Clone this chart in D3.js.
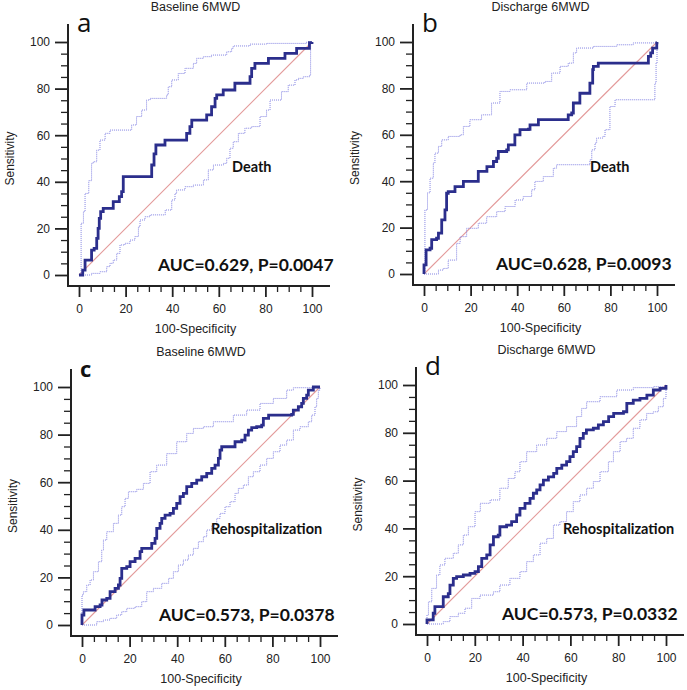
<!DOCTYPE html>
<html><head><meta charset="utf-8">
<script src="https://cdn.jsdelivr.net/npm/d3@7"></script>
<style>
body{margin:0;background:#fff;}
svg{display:block;}
</style></head>
<body>
<svg id="chart" width="687" height="690"></svg>
<script>
// ---------- DATA ----------
const panelLetters = ["a", "b", "c", "d"];
const panelTitles = ["Baseline 6MWD", "Discharge 6MWD", "Baseline 6MWD", "Discharge 6MWD"];
const outcomeLabels = ["Death", "Death", "Rehospitalization", "Rehospitalization"];
const aucLabels = ["AUC=0.629, P=0.0047", "AUC=0.628, P=0.0093", "AUC=0.573, P=0.0378", "AUC=0.573, P=0.0332"];
const xAxisTitle = "100-Specificity";
const yAxisTitle = "Sensitivity";
const majorTicks = [0, 20, 40, 60, 80, 100];
const minorTicks = [5,10,15,25,30,35,45,50,55,65,70,75,85,90,95];
const diagonal = [[0,0],[100,100]];

// Panel a - Baseline 6MWD, Death
const rocA = [[0,0],[1.0,0],[1.6,2.1],[2.6,6.4],[5.2,6.4],[5.4,10.7],[6.5,11.4],[7.6,15.7],[8.2,20.0],[8.7,24.3],[9.3,27.2],[10.4,28.6],[12.6,28.6],[14.7,31.5],[17.3,33.6],[18.3,35.8],[19.0,42.2],[30.5,42.2],[31.2,47.2],[32.2,52.0],[33.0,55.8],[36.9,57.9],[45.9,57.9],[46.2,60.8],[47.6,63.7],[48.4,66.5],[53.4,66.5],[54.8,68.7],[56.9,72.2],[58.4,75.8],[59.1,77.3],[61.9,79.4],[66.2,79.4],[66.9,82.3],[71.2,82.3],[73.4,85.1],[74.1,88.7],[75.5,90.8],[80.5,90.8],[81.3,93.0],[87.7,93.0],[88.4,95.1],[92.7,95.1],[93.4,97.3],[98.4,97.3],[98.9,99.7],[100,100]];
const upperA = [[0,0],[0.5,0],[0.9,22.2],[1.9,27.2],[2.6,35.0],[4.2,40.5],[5.4,47.9],[6.1,48.6],[7.6,53.6],[9.0,57.9],[11.2,60.8],[13.3,62.2],[21.9,62.2],[22.6,64.4],[24.7,68.0],[26.9,70.8],[29.0,75.1],[30.5,75.8],[36.9,75.8],[37.6,77.3],[38.3,80.8],[39.8,83.7],[42.6,86.5],[45.5,88.7],[49.1,90.8],[50.5,93.0],[53.4,93.7],[56.9,94.4],[60.5,94.4],[63.4,95.8],[65.5,97.3],[66.2,98.3],[73.4,99.1],[80.5,99.4],[97.7,100],[100,100]];
const lowerA = [[0,0],[2.6,0],[5.4,0.7],[9.0,1.4],[11.9,3.6],[13.3,5.0],[14.7,6.4],[16.2,9.3],[17.6,12.9],[19.7,13.6],[21.9,15.0],[24.0,16.5],[25.5,20.7],[26.2,23.6],[28.3,25.0],[30.5,25.8],[34.8,25.8],[37.0,27.9],[39.8,32.2],[41.2,35.0],[41.9,36.5],[45.5,37.9],[49.1,38.6],[53.4,40.8],[55.5,45.1],[57.7,47.2],[62.0,47.9],[63.4,50.1],[64.8,54.4],[66.2,57.2],[68.4,60.8],[71.2,63.0],[74.1,63.7],[77.7,68.0],[80.5,70.8],[82.0,75.1],[84.1,75.1],[86.9,78.7],[89.8,81.5],[92.7,83.7],[94.1,84.4],[96.3,85.1],[98.4,85.1],[99.1,85.8],[99.4,99.4],[100,100]];

// Panel b - Discharge 6MWD, Death
const rocB = [[0,0],[0,3.9],[0.9,3.9],[0.9,10.4],[2.6,11.1],[3.3,14.8],[5.4,15.4],[6.2,17.6],[7.2,17.6],[7.6,23.3],[9.0,27.6],[9.7,34.8],[10.4,35.5],[12.6,35.5],[13.3,37.7],[16.2,37.7],[16.9,39.9],[22.6,39.9],[23.3,44.2],[26.2,44.2],[27.0,46.3],[29.0,46.3],[29.8,48.5],[31.2,49.9],[31.9,52.8],[35.5,53.5],[36.2,55.7],[38.3,55.7],[39.0,60.0],[41.2,62.2],[44.8,62.4],[45.5,64.3],[48.4,64.3],[49.1,66.5],[61.2,66.5],[61.9,68.6],[63.4,69.4],[64.1,73.7],[66.2,73.7],[66.9,77.9],[70.5,77.9],[71.2,82.3],[72.4,88.1],[72.7,89.5],[74.8,90.9],[95.6,90.9],[96.3,93.8],[97.3,95.3],[98.1,97.4],[99.1,97.4],[99.9,99.6],[100,100]];
const upperB = [[0,0],[0.2,0],[0.4,27.6],[1.5,35.0],[2.6,41.3],[4.0,47.8],[4.7,52.1],[6.2,55.0],[7.6,57.8],[10.4,59.3],[15.5,60.0],[16.9,63.6],[19.7,66.5],[24.7,68.6],[29.0,73.7],[32.6,78.7],[36.9,79.4],[44.1,82.3],[51.9,83.0],[54.8,86.6],[58.4,89.5],[61.9,90.9],[64.1,95.3],[65.5,97.4],[72.7,98.1],[82.7,98.8],[89.8,99.6],[99.1,99.6],[100,100]];
const lowerB = [[0,0],[4.0,0],[6.2,1.7],[8.3,2.4],[10.4,6.0],[14.0,13.2],[15.5,16.1],[18.3,19.7],[23.3,21.9],[26.9,24.7],[31.2,26.9],[34.8,29.1],[39.1,31.9],[42.6,33.4],[46.2,36.3],[47.6,39.9],[51.2,42.0],[55.5,45.6],[56.9,47.1],[69.1,47.1],[71.2,49.2],[72.0,53.5],[73.4,56.4],[74.1,58.6],[76.8,59.3],[77.7,62.2],[79.8,72.2],[82.0,75.1],[98.4,75.1],[99.1,82.3],[99.6,90.9],[100,99.6],[100,100]];

// Panel c - Baseline 6MWD, Rehospitalization
const rocC = [[0,0],[0,4.2],[0.8,6.3],[4.8,6.3],[5.5,7.7],[7.6,8.4],[8.4,10.5],[10.4,11.2],[11.8,14.0],[13.9,15.4],[15.3,16.8],[16.0,19.6],[16.7,23.8],[18.8,24.5],[20.2,26.6],[22.3,28.0],[24.4,30.8],[25.1,32.2],[28.6,32.2],[29.3,34.3],[30.7,36.4],[31.4,40.6],[32.8,42.7],[33.5,44.8],[34.9,46.2],[37.0,46.9],[38.4,49.0],[39.8,51.1],[41.2,53.9],[42.6,55.3],[44.0,58.1],[46.1,59.5],[48.2,60.9],[50.3,62.3],[52.4,63.7],[54.5,65.8],[55.9,67.2],[57.3,70.0],[58.0,73.5],[58.7,74.9],[62.9,74.9],[64.3,77.0],[67.1,77.7],[68.5,79.8],[69.9,81.9],[71.3,82.9],[73.4,83.3],[75.5,84.0],[76.2,86.8],[78.4,88.2],[88.1,88.5],[88.8,90.3],[90.9,91.7],[92.3,93.1],[93.0,95.2],[94.4,96.6],[95.1,98.7],[97.2,100],[100,100]];
const upperC = [[0,0],[0,12.6],[0.6,14.0],[2.0,16.8],[3.4,18.9],[4.8,22.4],[6.9,26.6],[8.3,31.5],[9.0,35.7],[10.4,39.2],[13.2,42.7],[15.3,46.2],[16.7,49.7],[18.1,53.2],[19.5,56.0],[23.0,57.0],[25.8,59.5],[28.6,64.4],[31.4,67.2],[35.6,72.0],[39.8,77.0],[44.0,80.5],[46.8,82.6],[51.0,83.3],[55.2,85.4],[63.6,88.2],[69.2,90.3],[74.8,93.1],[80.4,95.2],[86.0,98.7],[88.8,99.7],[100,100]];
const lowerC = [[0,0],[3.4,0],[6.2,1.4],[9.0,2.1],[11.8,2.8],[14.6,4.2],[16.7,5.6],[18.8,7.0],[22.3,7.7],[25.1,9.8],[27.2,14.0],[30.0,15.4],[33.5,17.5],[36.4,19.6],[38.4,22.4],[40.5,25.2],[42.6,27.3],[44.7,29.4],[46.8,32.2],[48.9,35.0],[51.0,37.1],[52.4,39.9],[54.5,42.0],[56.6,44.8],[58.0,46.9],[60.1,49.7],[62.2,51.8],[64.3,55.3],[65.7,57.4],[67.8,58.8],[69.9,62.3],[72.0,64.4],[74.8,67.2],[77.6,70.0],[80.4,72.8],[83.2,75.6],[86.0,77.7],[88.8,81.9],[91.6,83.3],[95.1,85.4],[96.5,88.2],[97.9,91.7],[98.6,95.2],[99.3,98.7],[100,100]];

// Panel d - Discharge 6MWD, Rehospitalization
const rocD = [[0,0],[0,1.7],[2.0,1.7],[2.6,4.5],[3.3,7.3],[6.1,7.3],[6.8,11.4],[8.9,12.7],[9.6,16.3],[11.0,19.1],[12.4,19.8],[15.2,20.5],[18.0,21.2],[20.1,21.9],[21.5,24.0],[22.9,27.5],[25.0,28.9],[26.4,33.1],[27.8,36.5],[29.8,37.2],[30.5,40.7],[33.3,41.4],[35.4,42.8],[37.5,45.6],[38.9,48.4],[41.0,50.5],[43.1,52.6],[44.5,54.7],[45.9,56.1],[47.3,58.2],[48.7,60.2],[50.8,61.6],[53.0,63.0],[54.3,65.1],[56.4,66.5],[58.4,67.9],[59.8,70.0],[61.2,72.1],[62.6,74.2],[64.0,77.7],[65.4,79.8],[66.7,81.2],[69.6,81.9],[71.7,83.3],[73.8,84.7],[76.0,86.8],[78.1,88.1],[82.2,88.8],[83.6,92.3],[86.3,93.7],[89.1,94.4],[92.0,95.8],[94.7,97.9],[97.5,98.6],[100,99.3],[100,100]];
const upperD = [[0,0],[0,3.8],[0.6,9.3],[2.0,14.9],[4.0,20.5],[5.4,24.7],[7.5,27.5],[11.0,29.6],[13.1,33.1],[15.2,37.2],[17.3,40.7],[20.1,47.0],[22.3,50.5],[26.4,51.9],[30.5,56.8],[34.0,60.9],[36.8,63.7],[38.9,67.9],[41.7,72.1],[45.9,74.9],[50.1,77.7],[54.3,80.5],[58.4,82.6],[62.6,86.8],[64.7,90.2],[66.8,93.0],[72.4,95.1],[79.4,97.9],[86.3,98.9],[94.7,99.3],[100,99.3],[100,100]];
const lowerD = [[0,0],[4.0,0],[6.8,1.0],[9.6,3.1],[13.1,4.5],[15.9,6.6],[18.7,10.7],[22.2,12.1],[27.8,13.5],[30.5,16.3],[34.7,19.1],[38.9,21.9],[41.7,26.1],[44.5,28.9],[47.3,33.8],[50.1,35.8],[52.9,41.4],[55.6,42.8],[58.4,47.0],[61.2,51.2],[64.0,54.0],[66.8,56.8],[69.6,59.6],[72.4,63.7],[75.9,67.9],[78.0,72.1],[80.8,76.3],[83.5,77.7],[86.3,81.9],[89.1,85.4],[91.9,88.1],[94.7,88.8],[96.8,90.9],[98.9,94.4],[100,98.6],[100,100]];

const rocCurves = [rocA, rocB, rocC, rocD];
const upperBounds = [upperA, upperB, upperC, upperD];
const lowerBounds = [lowerA, lowerB, lowerC, lowerD];

// ---------- LAYOUT ----------
const layout = [
  {x0: 79,  x1: 312, y0: 275, y1: 42,  letterBold: false, letterSize: 26, aucDx: 79, labDx: 153, labY: 172},
  {x0: 424, x1: 657, y0: 274, y1: 42,  letterBold: false, letterSize: 26, aucDx: 72, labDx: 166, labY: 172},
  {x0: 82,  x1: 320, y0: 625, y1: 387, letterBold: true,  letterSize: 22, aucDx: 77, labDx: 129, labY: 534},
  {x0: 427, x1: 666, y0: 624, y1: 385, letterBold: false, letterSize: 26, aucDx: 75, labDx: 136, labY: 534}
];
const gap = 11;      // offset of axis lines from the data origin
const extend = 18;   // how far axis lines extend beyond 100
const rocColor = "#2b2e8c";
const ciColor = "#8383e2";
const diagColor = "#e39a9a";
const sansFont = "'Liberation Sans', Arial, sans-serif";
const annoFont = "Lato, 'Open Sans', sans-serif";

const svg = d3.select("#chart");

layout.forEach((L, i) => {
  const x = d3.scaleLinear().domain([0, 100]).range([L.x0, L.x1]);
  const y = d3.scaleLinear().domain([0, 100]).range([L.y0, L.y1]);
  const g = svg.append("g");
  const axX = x(0) - gap;        // y-axis line x
  const axY = y(0) + gap;        // x-axis line y
  const cx = (x(0) + x(100)) / 2;

  // axis lines
  g.append("line").attr("x1", axX).attr("x2", axX)
    .attr("y1", y(100) - extend).attr("y2", axY + 1)
    .attr("stroke", "#222").attr("stroke-width", 2);
  g.append("line").attr("x1", axX - 1).attr("x2", x(100) + extend)
    .attr("y1", axY).attr("y2", axY)
    .attr("stroke", "#222").attr("stroke-width", 2);

  // y axis ticks
  const yMaj = g.append("g").attr("transform", `translate(${axX},0)`)
    .call(d3.axisLeft(y).tickValues(majorTicks).tickSize(13).tickPadding(5));
  const yMin = g.append("g").attr("transform", `translate(${axX},0)`)
    .call(d3.axisLeft(y).tickValues(minorTicks).tickSize(7).tickFormat(""));
  // x axis ticks
  const xMaj = g.append("g").attr("transform", `translate(0,${axY})`)
    .call(d3.axisBottom(x).tickValues(majorTicks).tickSize(11).tickPadding(7));
  const xMin = g.append("g").attr("transform", `translate(0,${axY})`)
    .call(d3.axisBottom(x).tickValues(minorTicks).tickSize(6).tickFormat(""));
  [yMaj, yMin, xMaj, xMin].forEach(a => {
    a.select(".domain").remove();
    a.selectAll("line").attr("stroke", "#222").attr("stroke-width", 1.3);
    a.selectAll("text").attr("font-family", sansFont).attr("font-size", 12).attr("fill", "#222");
  });
  yMaj.selectAll("line").attr("stroke-width", 1.8);
  xMaj.selectAll("line").attr("stroke-width", 1.8);

  // diagonal reference
  const line = d3.line().x(d => x(d[0])).y(d => y(d[1]));
  const stepLine = d3.line().x(d => x(d[0])).y(d => y(d[1])).curve(d3.curveStepAfter);
  g.append("path").attr("d", line(diagonal))
    .attr("fill", "none").attr("stroke", diagColor).attr("stroke-width", 1.1);

  // confidence bounds
  [upperBounds[i], lowerBounds[i]].forEach(b => {
    g.append("path").attr("d", stepLine(b))
      .attr("fill", "none").attr("stroke", ciColor).attr("stroke-width", 1)
      .attr("stroke-dasharray", "1,1");
  });

  // ROC curve
  g.append("path").attr("d", stepLine(rocCurves[i]))
    .attr("fill", "none").attr("stroke", rocColor).attr("stroke-width", 2.8)
    .attr("stroke-linejoin", "miter");

  // axis titles
  g.append("text").attr("x", cx).attr("y", axY + 47)
    .attr("text-anchor", "middle").attr("font-family", sansFont).attr("font-size", 12.5)
    .attr("fill", "#222").text(xAxisTitle);
  g.append("text").attr("transform", `translate(${axX - 54},${(y(0) + y(100)) / 2}) rotate(-90)`)
    .attr("text-anchor", "middle").attr("font-family", sansFont).attr("font-size", 12)
    .attr("fill", "#222").text(yAxisTitle);

  // panel title
  g.append("text").attr("x", cx).attr("y", y(100) - 31)
    .attr("text-anchor", "middle").attr("font-family", sansFont).attr("font-size", 12.5)
    .attr("fill", "#222").text(panelTitles[i]);

  // panel letter
  g.append("text").attr("x", x(0) - 2).attr("y", y(100) - 10)
    .attr("font-family", "'Open Sans', sans-serif").attr("font-size", L.letterSize)
    .attr("font-weight", L.letterBold ? "bold" : "normal")
    .attr("fill", "#111").text(panelLetters[i]);

  // annotations
  g.append("text").attr("x", x(0) + L.aucDx).attr("y", y(0) - 4)
    .attr("font-family", annoFont).attr("font-size", 17.5)
    .attr("font-weight", "bold").attr("fill", "#111").text(aucLabels[i]);
  g.append("text").attr("x", x(0) + L.labDx).attr("y", L.labY)
    .attr("font-family", annoFont).attr("font-size", 14.5)
    .attr("font-weight", "bold").attr("fill", "#111").text(outcomeLabels[i]);
});
</script>
</body></html>
